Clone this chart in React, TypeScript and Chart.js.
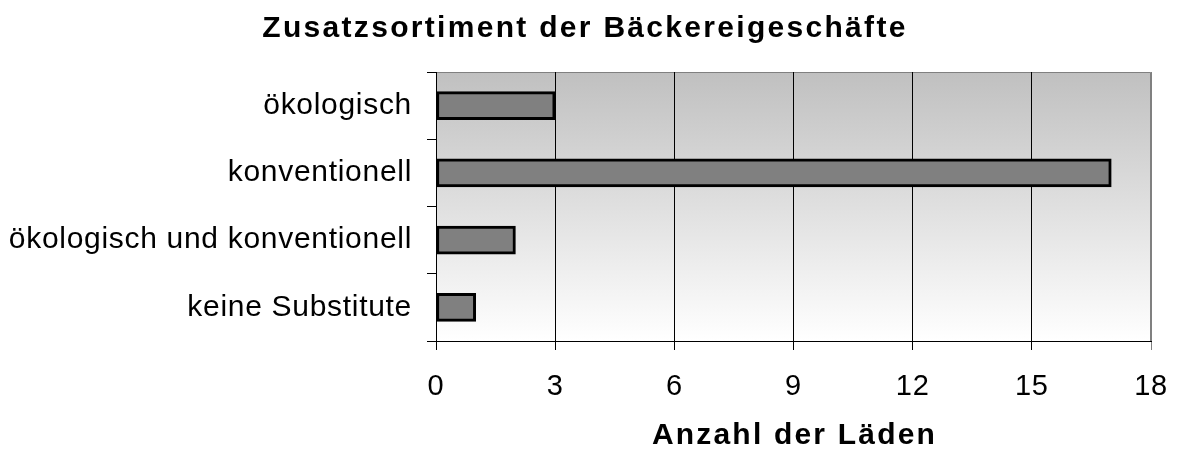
import React, { useEffect, useRef } from "react";
import { Chart, registerables } from "chart.js";

Chart.register(...registerables);

const chartTitle = "Zusatzsortiment der Bäckereigeschäfte";
const xAxisTitle = "Anzahl der Läden";
const categories = ["ökologisch", "konventionell", "ökologisch und konventionell", "keine Substitute"];
const shopCounts = [3, 17, 2, 1];
const xTickStep = 3;
const xMax = 18;

const FONT = "'Liberation Sans', Arial, sans-serif";

const backgroundPlugin = {
  id: "plotBackground",
  beforeDraw(chart: any) {
    const { ctx, chartArea } = chart;
    const { left, top, right, bottom } = chartArea;
    ctx.save();
    const g = ctx.createLinearGradient(0, top, 0, bottom);
    g.addColorStop(0, "#c0c0c0");
    g.addColorStop(1, "#ffffff");
    ctx.fillStyle = g;
    ctx.fillRect(left, top, right - left, bottom - top);
    ctx.strokeStyle = "#808080";
    ctx.lineWidth = 1;
    ctx.beginPath();
    ctx.moveTo(left, top + 0.5);
    ctx.lineTo(right - 0.5, top + 0.5);
    ctx.lineTo(right - 0.5, bottom);
    ctx.stroke();
    ctx.restore();
    ctx.letterSpacing = "0.7px";
  },
  afterDraw(chart: any) {
    const { ctx, chartArea } = chart;
    ctx.save();
    ctx.fillStyle = "#000000";
    ctx.textBaseline = "alphabetic";
    ctx.textAlign = "center";
    ctx.font = `bold 30px ${FONT}`;
    ctx.letterSpacing = "2.3px";
    ctx.fillText(chartTitle, 585, 37);
    ctx.letterSpacing = "2.2px";
    ctx.fillText(xAxisTitle, (chartArea.left + chartArea.right) / 2 + 1, 444);
    ctx.restore();
    ctx.letterSpacing = "0px";
  },
};

export default function App() {
  const canvasRef = useRef<HTMLCanvasElement | null>(null);

  useEffect(() => {
    document.body.style.margin = "0";
    const canvas = canvasRef.current;
    if (!canvas) return;
    const chart = new Chart(canvas, {
      type: "bar",
      data: {
        labels: categories,
        datasets: [
          {
            data: shopCounts,
            backgroundColor: "#808080",
            borderColor: "#000000",
            borderWidth: 3,
            borderSkipped: false,
            barThickness: 28,
          },
        ],
      },
      options: {
        indexAxis: "y",
        animation: false,
        responsive: false,
        maintainAspectRatio: false,
        layout: { padding: { left: 0, top: 72, right: 27, bottom: 0 } },
        plugins: {
          legend: { display: false },
          title: { display: false },
          tooltip: { enabled: false },
        },
        scales: {
          x: {
            min: 0,
            max: xMax,
            ticks: {
              stepSize: xTickStep,
              color: "#000000",
              font: { family: FONT, size: 29 },
              padding: 20,
              maxRotation: 0,
            },
            grid: {
              color: (c: any) => (c.tick && c.tick.value === xMax ? "#808080" : "#000000"),
              lineWidth: 1,
              tickLength: 9,
              drawOnChartArea: true,
            },
            border: { color: "#000000", width: 1 },
            afterFit(scale: any) {
              scale.height = 109;
              scale.paddingLeft = 0;
              scale.paddingRight = 0;
            },
          },
          y: {
            ticks: {
              color: "#000000",
              font: { family: FONT, size: 30 },
              padding: 15,
            },
            grid: {
              offset: true,
              drawOnChartArea: false,
              color: "#000000",
              tickLength: 9,
            },
            border: { color: "#000000", width: 1 },
            afterFit(scale: any) {
              scale.width = 436;
              scale.paddingTop = 0;
              scale.paddingBottom = 0;
            },
          },
        },
      },
      plugins: [backgroundPlugin],
    });
    return () => chart.destroy();
  }, []);

  return (
    <div style={{ width: 1178, height: 450 }}>
      <canvas ref={canvasRef} width={1178} height={450} style={{ display: "block" }} />
    </div>
  );
}
